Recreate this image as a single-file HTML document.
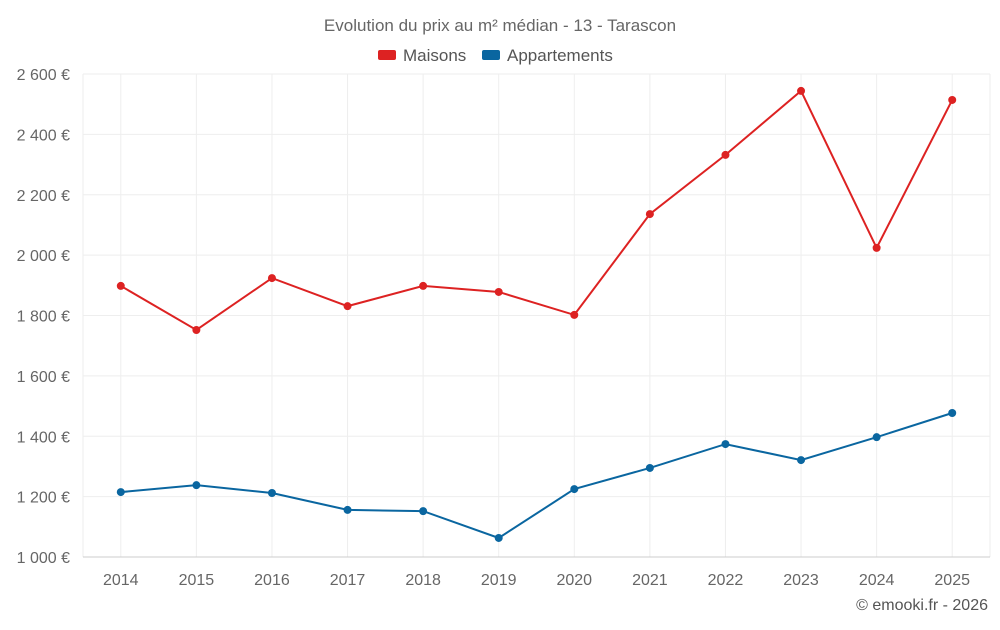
<!DOCTYPE html>
<html><head><meta charset="utf-8"><style>
body{margin:0;background:#fff;font-family:"Liberation Sans",sans-serif}
svg text{font-family:"Liberation Sans",sans-serif}
</style></head><body>
<svg id="c" width="1000" height="625">
<text x="500" y="31" text-anchor="middle" font-size="17" fill="#666">Evolution du prix au m² médian - 13 - Tarascon</text>
<g>
<rect x="378" y="50" width="18" height="10" fill="#dd2222" rx="2"/>
<text x="403" y="61" font-size="17" fill="#555">Maisons</text>
<rect x="482" y="50" width="18" height="10" fill="#0a66a0" rx="2"/>
<text x="507" y="61" font-size="17" fill="#555">Appartements</text>
</g>
<g id="grid"></g><g id="marks"></g>
<text x="988" y="610" text-anchor="end" font-size="16" fill="#555">© emooki.fr - 2026</text>
</svg>
<script>
const years=["2014","2015","2016","2017","2018","2019","2020","2021","2022","2023","2024","2025"];
const maisons=[1898,1752,1924,1831,1898,1878,1802,2136,2332,2544,2024,2514];
const appartements=[1215,1238,1212,1156,1152,1063,1225,1295,1374,1321,1397,1477];
const yTicks=[1000,1200,1400,1600,1800,2000,2200,2400,2600];
const L=83,R=990,T=74,B=557,yMin=1000,yMax=2600;
const bw=(R-L)/years.length;
const x=i=>L+bw*(i+0.5);
const y=v=>B-(v-yMin)/(yMax-yMin)*(B-T);
const NS="http://www.w3.org/2000/svg";
const g=document.getElementById('grid'),m=document.getElementById('marks');
function mk(p,t,a){const e=document.createElementNS(NS,t);for(const k in a)e.setAttribute(k,a[k]);p.appendChild(e);return e;}
[L,R].forEach(xx=>{
 const l=mk(g,'line',{x1:xx,x2:xx,y1:T,y2:B,stroke:'#eee'});
 
 
});
years.forEach((yr,i)=>{
 const l=mk(g,'line',{x1:x(i),x2:x(i),y1:T,y2:B,stroke:'#eee'});
 
 
 const t=mk(g,'text',{x:x(i),y:585,'text-anchor':'middle','font-size':16,fill:'#666'});
 t.textContent=yr;
 
 
});
yTicks.forEach(v=>{
 const l=mk(g,'line',{x1:L,x2:R,y1:y(v),y2:y(v),stroke:v===yMin?'#ccc':'#eee'});
 
 
 const t=mk(g,'text',{x:70,y:y(v)+6,'text-anchor':'end','font-size':16,fill:'#666'});
 t.textContent=String(v).replace(/\B(?=(\d{3})+$)/,' ')+' €';
 
 
});
function series(d,c,n){
 const p=mk(m,'polyline',{points:d.map((v,i)=>x(i)+','+y(v)).join(' '),fill:'none',stroke:c,'stroke-width':2});
 
 
 d.forEach((v,i)=>{
  const ci=mk(m,'circle',{cx:x(i),cy:y(v),r:4,fill:c});
  
  
 });
}
series(maisons,'#dd2222','maisons');
series(appartements,'#0a66a0','appartements');
</script>
</body></html>
